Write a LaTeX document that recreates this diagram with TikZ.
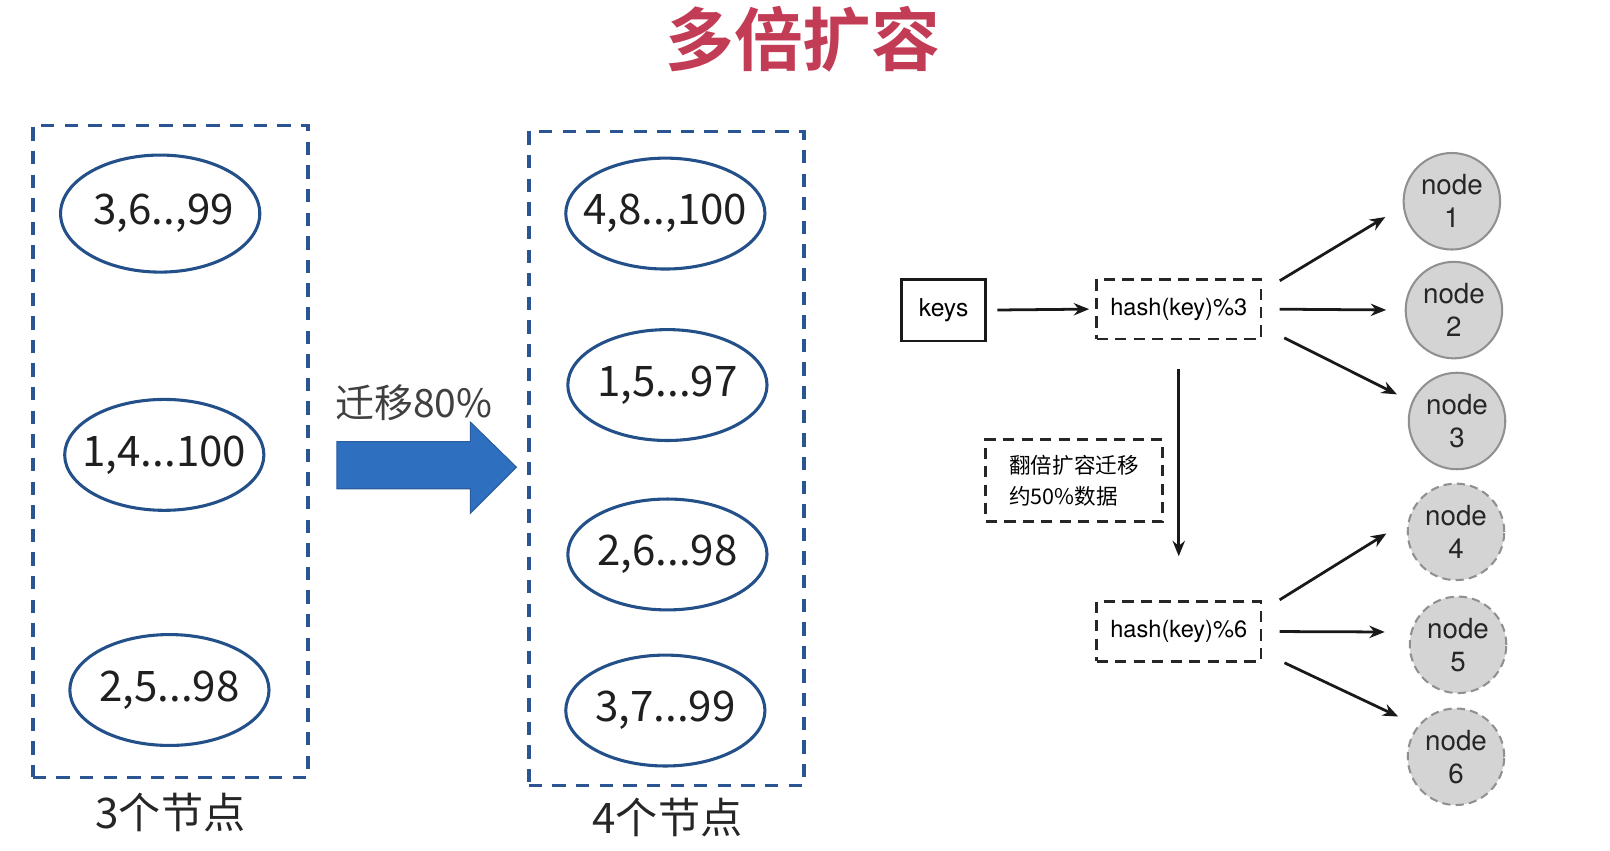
\documentclass[tikz,border=0pt]{standalone}
\usepackage{fontspec}
\setmainfont{Noto Sans CJK SC}
\newfontfamily\cjk{Noto Sans CJK SC}
\newfontfamily\cjkb{Noto Sans CJK SC Bold}
\newfontfamily\hv{TeX Gyre Heros}
\usetikzlibrary{shapes.geometric,arrows.meta}
\definecolor{titlered}{HTML}{C23C55}
\definecolor{boxblue}{HTML}{2B5592}
\definecolor{ellblue}{HTML}{24508A}
\definecolor{arrfill}{HTML}{2E6FC0}
\definecolor{arrline}{HTML}{2A5C9E}
\definecolor{nodegray}{HTML}{D4D4D4}
\definecolor{nodeline}{HTML}{909090}
\tikzset{
  bluebox/.style={draw=boxblue, line width=3.4pt, dash pattern=on 13pt off 10pt, minimum width=268pt, inner sep=0pt},
  ell/.style={ellipse, draw=ellblue, line width=3pt, minimum width=194pt, minimum height=108pt, inner sep=0pt, font=\cjk\fontsize{41}{43}\selectfont, text=black!88},
  grpcaption/.style={font=\cjk\fontsize{41}{43}\selectfont, text=black!85},
  dbox/.style={draw=black!85, line width=2.5pt, dash pattern=on 11pt off 7pt, minimum height=58pt, inner sep=2pt},
  arr/.style={-{Stealth[length=15pt,width=12pt]}, line width=2.7pt, black!90},
  srv/.style={circle, fill=nodegray, draw=nodeline, line width=2pt, minimum size=94pt, inner sep=0pt, align=center, font=\hv\fontsize{27}{32}\selectfont, text=black!85},
  srvd/.style={srv, dash pattern=on 8pt off 5pt},
}
\newcommand{\zw}[1]{\makebox[0pt]{#1}}
\begin{document}
\begin{tikzpicture}[x=1pt,y=-1pt]
\useasboundingbox (0,0) rectangle (1568,828);
% title
\node[font=\cjkb\fontsize{67}{69}\selectfont, text=titlered] (title) at (782,38) {多倍扩容};
% left group
\node[bluebox, minimum height=635pt] (L) at (166,439.5) {};
\node[ell, minimum height=114pt] (l1) at (156,208) {\zw{\,3,6..,99}};
\node[ell] (l2) at (160,443) {\zw{1,4...100}};
\node[ell] (l3) at (165,672) {\zw{2,5...98}};
\node[grpcaption] (lc) at (166,791) {3个节点};
% middle group
\node[bluebox, minimum height=637pt] (M) at (649,446.5) {};
\node[ell] (m1) at (648,208) {\zw{4,8..,100}};
\node[ell] (m2) at (650,375) {\zw{1,5...97}};
\node[ell] (m3) at (650,540) {\zw{2,6...98}};
\node[ell] (m4) at (648,692) {\zw{3,7...99}};
\node[grpcaption] (mc) at (650,796) {4个节点};
% block arrow
\draw[fill=arrfill, draw=arrline, line width=1pt]
  (328,430) -- (458,430) -- (458,411) -- (503,455) -- (458,500) -- (458,476) -- (328,476) -- cycle;
\node[font=\cjk\fontsize{38}{40}\selectfont, text=black!75] (mig) at (403,392) {迁移80\%};
% right diagram
\node[draw=black!90, line width=2.6pt, minimum width=82pt, minimum height=60pt, font=\hv\fontsize{24}{26}\selectfont, inner sep=0pt] (keys) at (919,302) {keys};
\node[dbox, minimum width=160pt, font=\hv\fontsize{23}{26}\selectfont] (h3) at (1148,301) {hash(key)\%3};
\node[dbox, minimum width=160pt, font=\hv\fontsize{23}{26}\selectfont] (h6) at (1148,615) {hash(key)\%6};
\node[dbox, minimum width=172pt, minimum height=80pt, align=left, font=\cjk\fontsize{21}{30}\selectfont] (note) at (1046,468) {翻倍扩容迁移\\约50\%数据};
\node[srv] (n1) at (1414,196) {node\\1};
\node[srv] (n2) at (1416,302) {node\\2};
\node[srv] (n3) at (1419,410) {node\\3};
\node[srvd] (n4) at (1418,518) {node\\4};
\node[srvd] (n5) at (1420,628) {node\\5};
\node[srvd] (n6) at (1418,737) {node\\6};
% connectors
\draw[arr, shorten <=10pt, shorten >=6pt] (keys.east) -- (h3.west);
\draw[arr, shorten <=28pt, shorten >=43pt] (h3.south) -- (h6.north);
\draw[arr, shorten <=20pt, shorten >=20pt] (h3.12) -- (n1.186);
\draw[arr, shorten <=17pt, shorten >=18pt] (h3.east) -- (n2.west);
\draw[arr, shorten <=24pt, shorten >=16pt] (h3.-12) -- (n3.157);
\draw[arr, shorten <=20pt, shorten >=25pt] (h6.14) -- (n4.166);
\draw[arr, shorten <=17pt, shorten >=25pt] (h6.east) -- (n5.165);
\draw[arr, shorten <=24pt, shorten >=21pt] (h6.-14) -- (n6.141);
\end{tikzpicture}
\end{document}
